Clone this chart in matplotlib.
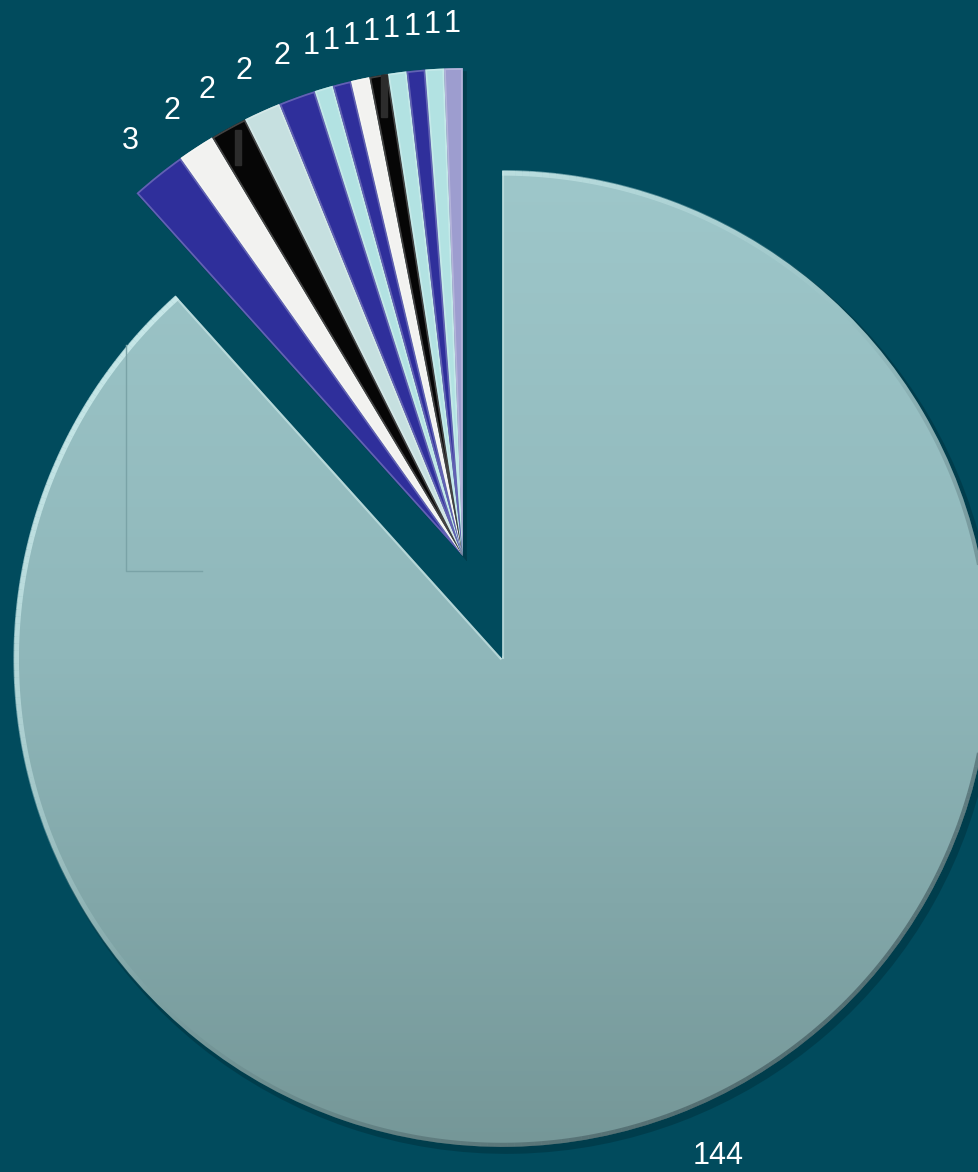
import numpy as np
import matplotlib.pyplot as plt
from matplotlib.patches import Wedge
from matplotlib.collections import LineCollection
from matplotlib.colors import LinearSegmentedColormap, to_rgb

# valeurs du graphique (sens horaire depuis midi)
values = [144, 3, 2, 2, 2, 2, 1, 1, 1, 1, 1, 1, 1, 1]
labels = [str(v) for v in values]
colors = ['#93bcbf', '#2f2f9b', '#f2f2f0', '#060606', '#c6e0e0', '#2f2f9b',
          '#b2e2e2', '#2f2f9b', '#f2f2f0', '#060606', '#b2e2e2', '#2f2f9b',
          '#b2e2e2', '#9d9dcf']

bg = '#014b5d'
W, H = 979, 1172

fig = plt.figure(figsize=(W / 100, H / 100), dpi=100)
fig.patch.set_facecolor(bg)
ax = fig.add_axes([0, 0, 1, 1])
ax.set_xlim(0, W)
ax.set_ylim(0, H)
ax.set_aspect('equal')
ax.axis('off')

# geometrie du camembert
cx, cy = 482.5, 564.5
r = 488
shift = 55

total = sum(values)
angles = 360 * np.array(values) / total
ends = 90 - np.cumsum(angles)
starts = ends + angles
mids = (starts + ends) / 2

# la grosse part et le groupe des petites parts sont detaches en bloc
big_dir = np.deg2rad(mids[0])
grp_dir = np.deg2rad((ends[0] + ends[-1]) / 2)
centers = []
for i in range(len(values)):
    a = big_dir if i == 0 else grp_dir
    centers.append((cx + shift * np.cos(a), cy + shift * np.sin(a)))


def lighten(c, f):
    c = np.array(to_rgb(c))
    return tuple(c + (1 - c) * f)


# ombre portee
for i in range(len(values)):
    x0, y0 = centers[i]
    sh = Wedge((x0 + 4, y0 - 5), r + 2, ends[i], starts[i],
               facecolor='#002c38', edgecolor='none', alpha=0.45, zorder=1)
    ax.add_patch(sh)

# grosse part en degrade
x0, y0 = centers[0]
big = Wedge((x0, y0), r, ends[0], starts[0], facecolor='none',
            edgecolor='none', zorder=2)
ax.add_patch(big)
cmap = LinearSegmentedColormap.from_list('g', ['#759798', '#8fb7ba', '#9ec7ca'])
grad = np.linspace(0, 1, 256)[:, None]
im = ax.imshow(grad, cmap=cmap, origin='lower', aspect='auto',
               extent=(x0 - r, x0 + r, y0 - r, y0 + r), zorder=2)
im.set_clip_path(big)

# biseau : clair en haut a gauche, sombre en bas a droite
th = np.deg2rad(np.linspace(ends[0], starts[0], 400))
px = x0 + (r - 2) * np.cos(th)
py = y0 + (r - 2) * np.sin(th)
segs = np.stack([np.column_stack([px[:-1], py[:-1]]),
                 np.column_stack([px[1:], py[1:]])], axis=1)
tm = (th[:-1] + th[1:]) / 2
lum = np.cos(tm - np.deg2rad(135))
light = np.clip(lum, 0, 1) * 0.8
dark = np.clip(-lum, 0, 1) * 0.55
lc1 = LineCollection(segs, colors=[(0.82, 0.94, 0.94, a) for a in light],
                     linewidths=4, zorder=3)
lc2 = LineCollection(segs, colors=[(0.20, 0.28, 0.30, a) for a in dark],
                     linewidths=3, zorder=3)
ax.add_collection(lc1)
ax.add_collection(lc2)
for t in (ends[0], starts[0]):
    tr = np.deg2rad(t)
    ax.plot([x0, x0 + r * np.cos(tr)], [y0, y0 + r * np.sin(tr)],
            color='#cdeaea', lw=3, alpha=0.6, zorder=3,
            solid_capstyle='butt', clip_path=big)

# petites parts
for i in range(1, len(values)):
    x0, y0 = centers[i]
    w = Wedge((x0, y0), r, ends[i], starts[i], facecolor=colors[i],
              edgecolor='none', zorder=2)
    ax.add_patch(w)
    hl = Wedge((x0, y0), r, ends[i], starts[i], facecolor='none',
               edgecolor=lighten(colors[i], 0.35), lw=2.5, alpha=0.7, zorder=3)
    ax.add_patch(hl)
    hl.set_clip_path(w)

# etiquettes
for i in range(len(values)):
    x0, y0 = centers[i]
    a = np.deg2rad(mids[i])
    d = 1.09 * r
    ha = 'left' if i == 0 else 'center'
    ax.text(x0 + d * np.cos(a), y0 + d * np.sin(a), labels[i],
            ha=ha, va='center', fontsize=22, color='white',
            family='Liberation Sans', zorder=5)

# traits residuels visibles sur l'original
ax.plot([126, 126, 202], [H - 345, H - 571, H - 571], color='#7aa3a7',
        lw=1, zorder=4)
ax.add_patch(plt.Rectangle((235, H - 165), 6, 35, color='#2c2c2c', zorder=4))
ax.add_patch(plt.Rectangle((381, H - 117), 6, 42, color='#2c2c2c', zorder=4))

fig.savefig('out.png', dpi=100, facecolor=bg)
